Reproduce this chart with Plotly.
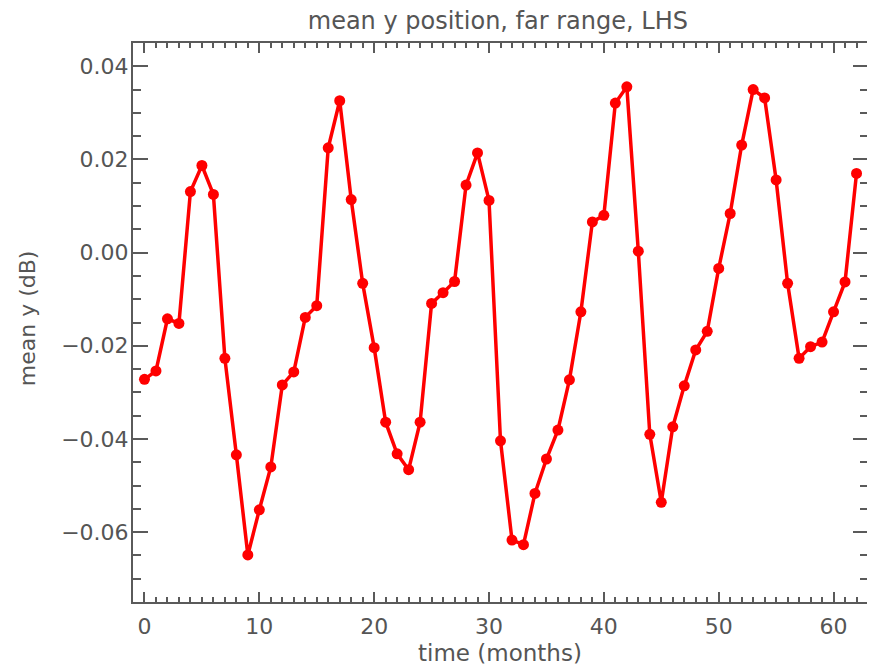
import plotly.graph_objects as go

months = list(range(63))
mean_y = [-0.0272, -0.0254, -0.0142, -0.0152, 0.0131, 0.0187, 0.0125, -0.0227, -0.0434, -0.0649,
          -0.0552, -0.0460, -0.0284, -0.0256, -0.0139, -0.0114, 0.0225, 0.0326, 0.0114, -0.0066,
          -0.0204, -0.0364, -0.0432, -0.0466, -0.0364, -0.0109, -0.0086, -0.0062, 0.0145, 0.0214,
          0.0112, -0.0404, -0.0617, -0.0627, -0.0517, -0.0443, -0.0381, -0.0273, -0.0127, 0.0066,
          0.0080, 0.0321, 0.0356, 0.0003, -0.0390, -0.0536, -0.0374, -0.0286, -0.0209, -0.0169,
          -0.0034, 0.0084, 0.0231, 0.0350, 0.0332, 0.0156, -0.0066, -0.0227, -0.0202, -0.0192,
          -0.0127, -0.0063, 0.0170]

x_ticks = [0, 10, 20, 30, 40, 50, 60]
y_ticks = [0.04, 0.02, 0.00, -0.02, -0.04, -0.06]
y_tick_text = ["0.04", "0.02", "0.00", "\u22120.02", "\u22120.04", "\u22120.06"]

fig = go.Figure()
fig.add_trace(go.Scatter(
    x=months, y=mean_y, mode="lines+markers",
    line=dict(color="#ff0000", width=3.5),
    marker=dict(color="#ff0000", size=11),
    showlegend=False,
))

font_family = "DejaVu Sans, sans-serif"
axis_color = "#5a5a5a"
text_color = "#555555"

# page body has an 8px margin, so the figure is drawn 8px smaller and offset
fig.update_layout(
    width=867, height=659,
    paper_bgcolor="white", plot_bgcolor="white",
    margin=dict(l=125, r=7, t=35, b=65, autoexpand=False),
    title=dict(text="mean y position, far range, LHS", xref="container", x=0.565, xanchor="center",
               yref="container", y=1.0, yanchor="top", pad=dict(t=4), automargin=False,
               font=dict(family=font_family, size=24, color=text_color)),
    font=dict(family=font_family, color=text_color),
    annotations=[
        dict(text="mean y (dB)", xref="paper", yref="paper", x=-0.1440, y=0.508,
             xanchor="center", yanchor="middle", textangle=-90, showarrow=False,
             font=dict(family=font_family, size=22, color=text_color)),
        dict(text="time (months)", xref="paper", yref="paper", x=0.4993, y=-0.0912,
             xanchor="center", yanchor="middle", showarrow=False,
             font=dict(family=font_family, size=23, color=text_color)),
    ],
)
fig.update_xaxes(
    range=[-1, 63], tickvals=x_ticks, ticktext=[str(v) for v in x_ticks],
    ticks="inside", ticklen=10, tickwidth=1.5, tickcolor=axis_color,
    minor=dict(dtick=1, tick0=0, ticks="inside", ticklen=5, tickwidth=1.5, tickcolor=axis_color, showgrid=False),
    showline=True, linecolor=axis_color, linewidth=2, mirror="allticks",
    showgrid=False, zeroline=False, automargin=False,
    tickfont=dict(size=22, color=text_color), ticklabelstandoff=4,
)
fig.update_yaxes(
    range=[-0.075, 0.045], tickvals=y_ticks, ticktext=y_tick_text,
    ticks="inside", ticklen=15, tickwidth=1.5, tickcolor=axis_color,
    minor=dict(dtick=0.005, tick0=0, ticks="inside", ticklen=8, tickwidth=1.5, tickcolor=axis_color, showgrid=False),
    showline=True, linecolor=axis_color, linewidth=2, mirror="allticks",
    showgrid=False, zeroline=False, automargin=False,
    tickfont=dict(size=22, color=text_color), ticklabelstandoff=-2,
)

fig.write_html("out.html")
